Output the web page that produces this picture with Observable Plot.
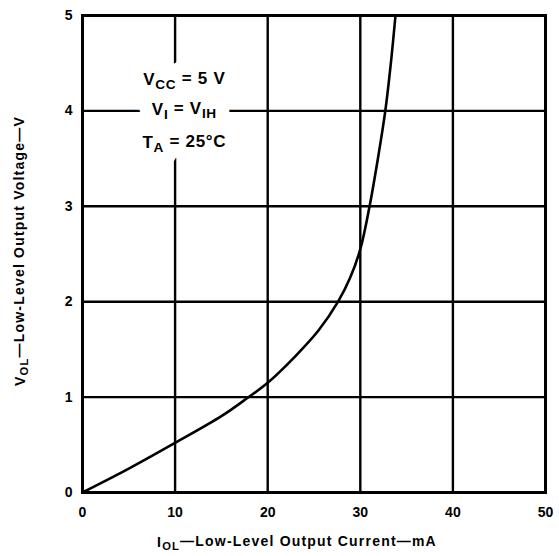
<!DOCTYPE html>
<html><head><meta charset="utf-8">
<script src="https://cdn.jsdelivr.net/npm/d3@7"></script>
<script src="https://cdn.jsdelivr.net/npm/@observablehq/plot@0.6"></script>
<style>body{margin:0;background:#fff}svg{font-family:"Liberation Sans",Arial,sans-serif}</style>
</head><body><div id="chart"></div>
<script>
// I_OL (mA) vs V_OL (V)
const currentMA = [0, 5, 10, 15, 17.8, 20, 23, 25.5, 27.6, 28.9, 30.0, 31.0, 31.9, 32.7, 33.3, 33.8];
const voltageV  = [0, 0.25, 0.52, 0.8, 0.99, 1.15, 1.43, 1.7, 2.0, 2.25, 2.55, 3.0, 3.5, 4.0, 4.5, 5.0];
const xTicks = [0, 10, 20, 30, 40, 50];
const yTicks = [0, 1, 2, 3, 4, 5];
const noteLines = ["V{CC} = 5 V", "V{I} = V{IH}", "T{A} = 25°C"];
const noteVolts = [4.33, 4.01, 3.67];
const xLabel = "I{OL}—Low-Level Output Current—mA";
const yLabel = "V{OL}—Low-Level Output Voltage—V";

const curve = currentMA.map((x, i) => ({x, y: voltageV[i]}));
const notes = noteLines.map((t, i) => ({t, y: noteVolts[i]}));
const noteStyle = {x: 11.0, y: "y", text: "t", fontSize: 17, fontWeight: "bold"};

const plot = Plot.plot({
  width: 559, height: 556,
  marginLeft: 82, marginRight: 14, marginTop: 15, marginBottom: 64,
  x: {domain: [0, 50]},
  y: {domain: [0, 5]},
  style: {fontFamily: '"Liberation Sans", Arial, sans-serif', background: "#fff"},
  marks: [
    Plot.ruleX(xTicks, {stroke: "#000", strokeWidth: 2.4}),
    Plot.ruleY(yTicks, {stroke: "#000", strokeWidth: 2.4}),
    Plot.frame({stroke: "#000", strokeWidth: 3}),
    Plot.text(notes, {...noteStyle, fill: "#fff", stroke: "#fff", strokeWidth: 28, className: "sub"}),
    Plot.text(notes, {...noteStyle, fill: "#000", className: "sub"}),
    Plot.line(curve, {x: "x", y: "y", stroke: "#000", strokeWidth: 2.6, curve: "catmull-rom"}),
    Plot.axisX(xTicks, {tickSize: 0, tickPadding: 15, fontSize: 14, fontWeight: "bold", label: null, fill: "#000"}),
    Plot.axisY(yTicks, {tickSize: 0, tickPadding: 10, fontSize: 14, fontWeight: "bold", label: null, fill: "#000", tickFormat: d => String(d)}),
    Plot.text([xLabel], {frameAnchor: "bottom", textAnchor: "middle", dx: -17, dy: 54, text: d => d, fontSize: 14, fontWeight: "bold", fill: "#000", className: "sub lab"}),
    Plot.text([yLabel], {frameAnchor: "left", textAnchor: "middle", dx: -62, dy: -3, rotate: -90, text: d => d, fontSize: 14, fontWeight: "bold", fill: "#000", className: "sub lab"})
  ]
});

plot.querySelectorAll(".sub text").forEach(el => el.setAttribute("letter-spacing", el.closest(".lab") ? "1.2" : "0.7"));

// render subscripts written as {..}
plot.querySelectorAll(".sub text").forEach(el => {
  const s = el.textContent;
  if (!s.includes("{")) return;
  el.textContent = "";
  const parts = s.split(/(\{[^}]*\})/);
  let shifted = false;
  for (const p of parts) {
    if (!p) continue;
    const ts = document.createElementNS("http://www.w3.org/2000/svg", "tspan");
    if (p.startsWith("{")) {
      ts.textContent = p.slice(1, -1);
      ts.setAttribute("dy", "0.3em");
      ts.setAttribute("font-size", "0.8em");
      shifted = true;
    } else {
      ts.textContent = p;
      if (shifted) { ts.setAttribute("dy", "-0.3em"); shifted = false; }
    }
    el.appendChild(ts);
  }
});
document.getElementById("chart").appendChild(plot);
</script></body></html>
